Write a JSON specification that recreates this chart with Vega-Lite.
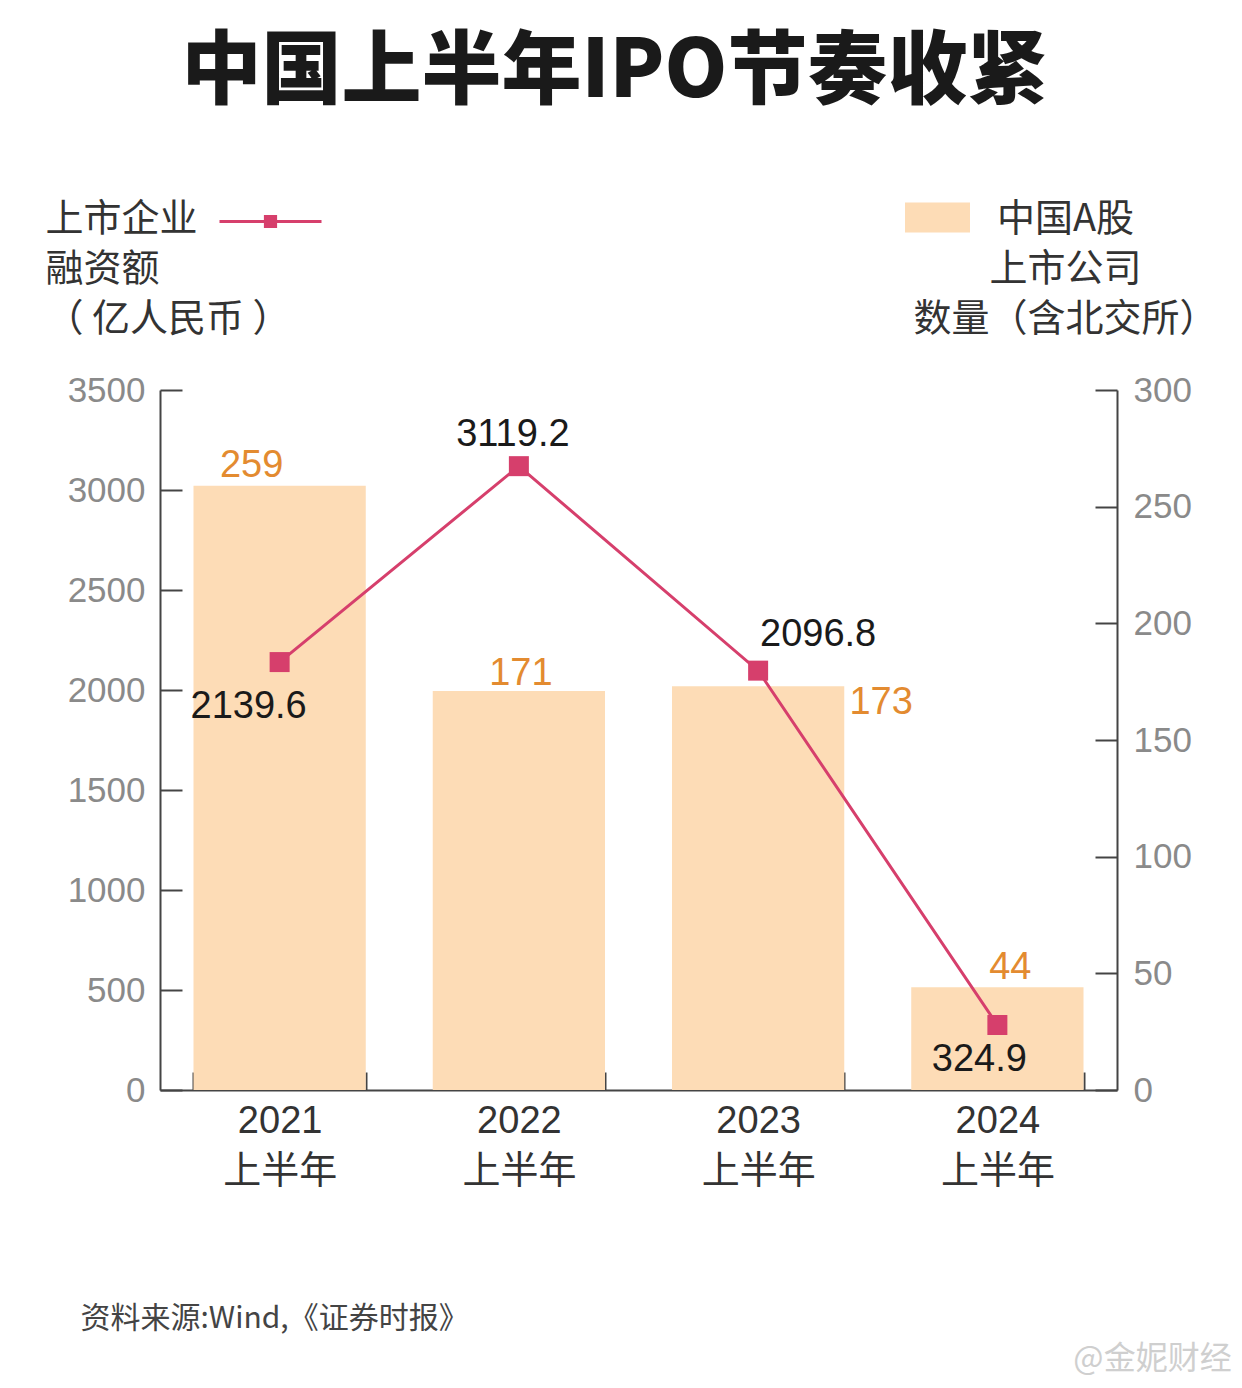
{
  "$schema": "https://vega.github.io/schema/vega-lite/v6.json",
  "width": 957,
  "height": 700,
  "autosize": {"type": "none"},
  "padding": {"left": 160, "top": 390, "right": 125, "bottom": 298},
  "background": "white",
  "config": {"view": {"stroke": null}, "font": "Noto Sans CJK SC"},
  "title": {
    "text": "中国上半年IPO节奏收紧",
    "font": "Noto Sans CJK SC",
    "fontSize": 80,
    "fontWeight": 900,
    "color": "#1a1a1a",
    "anchor": "middle",
    "frame": "group",
    "dx": -24,
    "offset": 55
  },
  "data": {
    "values": [
      {"period": "2021上半年", "count": 259, "amount": 2139.6},
      {"period": "2022上半年", "count": 171, "amount": 3119.2},
      {"period": "2023上半年", "count": 173, "amount": 2096.8},
      {"period": "2024上半年", "count": 44, "amount": 324.9}
    ]
  },
  "layer": [
    {
      "encoding": {
        "x": {
          "field": "period", "type": "nominal", "sort": null,
          "scale": {"paddingInner": 0.28, "paddingOuter": 0.14},
          "axis": {
            "orient": "bottom",
            "title": "资料来源:Wind,《证券时报》",
            "titleX": -80, "titleY": 237, "titleAlign": "left", "titleBaseline": "alphabetic", "titleAnchor": null,
            "titleFontSize": 30, "titleFontWeight": "normal", "titleColor": "#444444", "titleFont": "Noto Sans CJK SC",
            "labelAngle": 0,
            "labelExpr": "[substring(datum.label,0,4), substring(datum.label,4)]",
            "labelFontSize": 38, "labelColor": "#333333", "labelFont": "Liberation Sans, Noto Sans CJK SC",
            "labelLineHeight": 50, "labelPadding": 30, "labelBaseline": "top",
            "tickBand": "extent", "tickSize": -18, "tickColor": "#444444", "tickWidth": 2,
            "domainColor": "#444444", "domainWidth": 2
          }
        }
      },
      "layer": [
        {
          "mark": {"type": "bar"},
          "encoding": {
            "y": {
              "field": "count", "type": "quantitative",
              "scale": {"domain": [0, 300]},
              "axis": {
                "orient": "right", "values": [0, 50, 100, 150, 200, 250, 300], "format": "d",
                "grid": false, "tickSize": -22, "tickColor": "#444444", "tickWidth": 2,
                "domainColor": "#444444", "domainWidth": 2,
                "labelFontSize": 35, "labelColor": "#8a8a8a", "labelFont": "Liberation Sans", "labelPadding": 38,
                "title": ["中国A股", "上市公司", "数量（含北交所）"],
                "titleAngle": 0, "titleX": -52, "titleY": -190, "titleAlign": "center", "titleBaseline": "top",
                "titleFontSize": 38, "titleFontWeight": "normal", "titleColor": "#333333", "titleLineHeight": 50,
                "titleFont": "Noto Sans CJK SC"
              }
            },
            "fill": {
              "datum": "中国A股上市公司数量",
              "scale": {"range": ["#FDDCB6"]},
              "legend": {
                "orient": "none", "legendX": 745, "legendY": -205, "title": null, "padding": 0,
                "symbolType": "M-1,-0.46H1V0.46H-1Z", "symbolSize": 4225, "labelExpr": "''",
                "symbolStrokeWidth": 0, "symbolOffset": 0
              }
            }
          }
        },
        {
          "transform": [{"filter": "datum.count == 259"}],
          "mark": {"type": "text", "font": "Liberation Sans", "fontSize": 38, "color": "#E38B30", "baseline": "middle", "dx": -28, "dy": -20},
          "encoding": {"y": {"field": "count", "type": "quantitative"}, "text": {"field": "count"}}
        },
        {
          "transform": [{"filter": "datum.count == 171"}],
          "mark": {"type": "text", "font": "Liberation Sans", "fontSize": 38, "color": "#E38B30", "baseline": "middle", "dx": 2, "dy": -17},
          "encoding": {"y": {"field": "count", "type": "quantitative"}, "text": {"field": "count"}}
        },
        {
          "transform": [{"filter": "datum.count == 173"}],
          "mark": {"type": "text", "font": "Liberation Sans", "fontSize": 38, "color": "#E38B30", "baseline": "middle", "dx": 123, "dy": 17},
          "encoding": {"y": {"field": "count", "type": "quantitative"}, "text": {"field": "count"}}
        },
        {
          "transform": [{"filter": "datum.count == 44"}],
          "mark": {"type": "text", "font": "Liberation Sans", "fontSize": 38, "color": "#E38B30", "baseline": "middle", "dx": 13, "dy": -19},
          "encoding": {"y": {"field": "count", "type": "quantitative"}, "text": {"field": "count"}}
        }
      ]
    },
    {
      "encoding": {
        "x": {
          "field": "period", "type": "nominal", "sort": null,
          "scale": {"paddingInner": 0.28, "paddingOuter": 0.14},
          "axis": {
            "orient": "top", "domain": false, "ticks": false, "labels": false, "grid": false,
            "title": "@金妮财经", "titleX": 992, "titleY": 968, "titleAlign": "center", "titleBaseline": "middle",
            "titleAnchor": null, "titleFontSize": 32, "titleFontWeight": "normal", "titleColor": "#cfcfcf",
            "titleFont": "Noto Sans CJK SC"
          }
        }
      },
      "layer": [
        {
          "mark": {"type": "line", "color": "#D63F6C", "strokeWidth": 3},
          "encoding": {
            "y": {
              "field": "amount", "type": "quantitative",
              "scale": {"domain": [0, 3500]},
              "axis": {
                "orient": "left", "values": [0, 500, 1000, 1500, 2000, 2500, 3000, 3500], "format": "d",
                "grid": false, "tickSize": -22, "tickColor": "#444444", "tickWidth": 2,
                "domainColor": "#444444", "domainWidth": 2,
                "labelFontSize": 35, "labelColor": "#8a8a8a", "labelFont": "Liberation Sans", "labelPadding": 37,
                "title": ["上市企业", "融资额", "（ 亿人民币 ）"],
                "titleAngle": 0, "titleX": -115, "titleY": -190, "titleAlign": "left", "titleBaseline": "top",
                "titleFontSize": 38, "titleFontWeight": "normal", "titleColor": "#333333", "titleLineHeight": 50,
                "titleFont": "Noto Sans CJK SC"
              }
            },
            "color": {
              "datum": "上市企业融资额",
              "scale": {"range": ["#D63F6C"]},
              "legend": {
                "orient": "none", "legendX": 58, "legendY": -221, "title": null, "padding": 0,
                "symbolType": "M-1,0H1M-0.1,-0.1H0.1V0.1H-0.1Z", "symbolSize": 10404, "labelExpr": "''",
                "symbolOffset": 0,
                "encode": {"symbols": {"update": {"fill": {"value": "#D63F6C"}, "stroke": {"value": "#D63F6C"}, "strokeWidth": {"value": 3}, "opacity": {"value": 1}}}}
              }
            }
          }
        },
        {
          "mark": {"type": "point", "shape": "square", "filled": true, "size": 400, "color": "#D63F6C", "opacity": 1},
          "encoding": {"y": {"field": "amount", "type": "quantitative"}}
        },
        {
          "transform": [{"filter": "datum.amount == 2139.6"}],
          "mark": {"type": "text", "font": "Liberation Sans", "fontSize": 38, "color": "#1a1a1a", "baseline": "middle", "dx": -31, "dy": 45},
          "encoding": {"y": {"field": "amount", "type": "quantitative"}, "text": {"field": "amount", "format": ".1f"}}
        },
        {
          "transform": [{"filter": "datum.amount == 3119.2"}],
          "mark": {"type": "text", "font": "Liberation Sans", "fontSize": 38, "color": "#1a1a1a", "baseline": "middle", "dx": -6, "dy": -31},
          "encoding": {"y": {"field": "amount", "type": "quantitative"}, "text": {"field": "amount", "format": ".1f"}}
        },
        {
          "transform": [{"filter": "datum.amount == 2096.8"}],
          "mark": {"type": "text", "font": "Liberation Sans", "fontSize": 38, "color": "#1a1a1a", "baseline": "middle", "dx": 60, "dy": -36},
          "encoding": {"y": {"field": "amount", "type": "quantitative"}, "text": {"field": "amount", "format": ".1f"}}
        },
        {
          "transform": [{"filter": "datum.amount == 324.9"}],
          "mark": {"type": "text", "font": "Liberation Sans", "fontSize": 38, "color": "#1a1a1a", "baseline": "middle", "dx": -18, "dy": 35},
          "encoding": {"y": {"field": "amount", "type": "quantitative"}, "text": {"field": "amount", "format": ".1f"}}
        }
      ]
    }
  ],
  "resolve": {"scale": {"y": "independent"}, "axis": {"x": "independent"}}
}
